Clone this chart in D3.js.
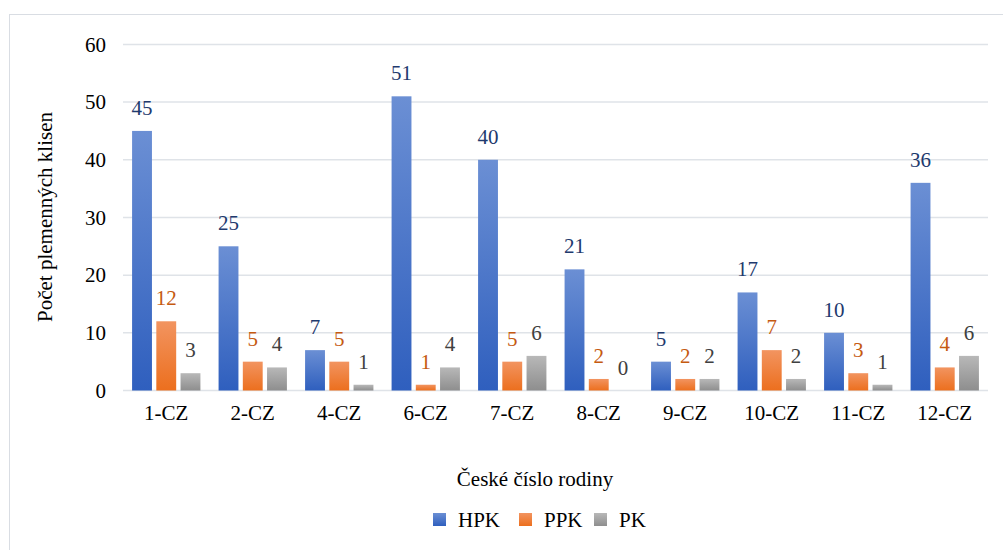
<!DOCTYPE html>
<html>
<head>
<meta charset="utf-8">
<script src="https://cdn.jsdelivr.net/npm/d3@7"></script>
<style>
  body { margin: 0; background: #fff; }
  svg, svg text { font-family: "Times New Roman", "Liberation Serif", "DejaVu Serif", serif !important; }
</style>
</head>
<body>
<svg id="chart" width="1003" height="550"></svg>
<script>
const families = ["1-CZ", "2-CZ", "4-CZ", "6-CZ", "7-CZ", "8-CZ", "9-CZ", "10-CZ", "11-CZ", "12-CZ"];
const seriesNames = ["HPK", "PPK", "PK"];
const hpk = [45, 25, 7, 51, 40, 21, 5, 17, 10, 36];
const ppk = [12, 5, 5, 1, 5, 2, 2, 7, 3, 4];
const pk = [3, 4, 1, 4, 6, 0, 2, 2, 1, 6];
const yTicks = [0, 10, 20, 30, 40, 50, 60];

const values = [hpk, ppk, pk];
const gradStops = [["#6b8fd4", "#2f5fbe"], ["#f29460", "#ec6f1e"], ["#b8b8b8", "#8e8e8e"]];
const labelColors = ["#1f3a6e", "#c55a11", "#404040"];

const svg = d3.select("#chart");

// frame
svg.append("rect").attr("x", 9.5).attr("y", 14.5).attr("width", 1010).attr("height", 560)
   .attr("fill", "none").attr("stroke", "#d9dde3");

const defs = svg.append("defs");
gradStops.forEach((s, i) => {
   const g = defs.append("linearGradient").attr("id", "g" + i)
      .attr("x1", 0).attr("y1", 0).attr("x2", 0).attr("y2", 1);
   g.append("stop").attr("offset", "0%").attr("stop-color", s[0]);
   g.append("stop").attr("offset", "100%").attr("stop-color", s[1]);
});

const plotLeft = 123, plotRight = 988, plotTop = 44.4, plotBottom = 390.5;

const x = d3.scaleBand().domain(families).range([plotLeft, plotRight]).paddingInner(0.21).paddingOuter(0.105);
const xs = d3.scaleBand().domain(seriesNames).range([0, x.bandwidth()]).paddingInner(0.18);
const y = d3.scaleLinear().domain([0, 60]).range([plotBottom, plotTop]);

// gridlines
svg.append("g").selectAll("line").data(yTicks).enter().append("line")
   .attr("x1", plotLeft).attr("x2", plotRight)
   .attr("y1", d => y(d)).attr("y2", d => y(d))
   .attr("stroke", "#dfe3e8").attr("stroke-width", 1.5);

// y axis labels
const yAxis = svg.append("g").attr("transform", `translate(${plotLeft}, 0)`)
   .call(d3.axisLeft(y).tickValues(yTicks).tickSize(0).tickPadding(17));
yAxis.attr("font-family", null);
yAxis.select(".domain").remove();
yAxis.selectAll("text").attr("font-size", 21).attr("fill", "#000");

// x axis labels
const xAxis = svg.append("g").attr("transform", `translate(0, ${plotBottom})`)
   .call(d3.axisBottom(x).tickSize(0).tickPadding(15));
xAxis.attr("font-family", null);
xAxis.select(".domain").remove();
xAxis.selectAll("text").attr("font-size", 21).attr("fill", "#000");

// bars
seriesNames.forEach((name, si) => {
   const g = svg.append("g");
   g.selectAll("rect").data(families).enter().append("rect")
      .attr("x", d => x(d) + xs(name))
      .attr("y", (d, i) => y(values[si][i]))
      .attr("width", xs.bandwidth())
      .attr("height", (d, i) => plotBottom - y(values[si][i]))
      .attr("fill", `url(#g${si})`);
   g.selectAll("text").data(families).enter().append("text")
      .attr("x", d => x(d) + xs(name) + xs.bandwidth() / 2)
      .attr("y", (d, i) => y(values[si][i]) - 16)
      .attr("text-anchor", "middle")
      .attr("font-size", 21)
      .attr("fill", labelColors[si])
      .text((d, i) => values[si][i]);
});

// axis titles
svg.append("text").attr("x", 535).attr("y", 486).attr("text-anchor", "middle")
   .attr("font-size", 21).text("České číslo rodiny");
svg.append("text").attr("transform", `translate(52, ${217}) rotate(-90)`).attr("text-anchor", "middle")
   .attr("font-size", 21).text("Počet plemenných klisen");

// legend
const legendX = [433, 519, 594];
const legend = svg.append("g");
seriesNames.forEach((name, i) => {
   legend.append("rect").attr("x", legendX[i]).attr("y", 513).attr("width", 13).attr("height", 13)
      .attr("fill", `url(#g${i})`);
   legend.append("text").attr("x", legendX[i] + 25).attr("y", 527).attr("font-size", 21).text(name);
});
</script>
</body>
</html>
